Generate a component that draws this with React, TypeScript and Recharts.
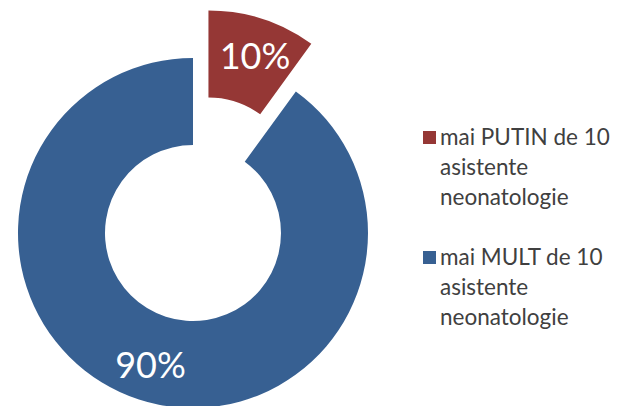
import { PieChart, Pie, Cell, Legend } from 'recharts'

const categories = ['mai PUTIN de 10 asistente neonatologie', 'mai MULT de 10 asistente neonatologie']
const legendLines = [
  ['mai PUTIN de 10', 'asistente', 'neonatologie'],
  ['mai MULT de 10', 'asistente', 'neonatologie']
]
const values = [10, 90]
const colors = ['#953735', '#376092']

const data = categories.map((name, i) => ({ name, value: values[i] }))

const RADIAN = Math.PI / 180
const FONT = 'Lato, "Open Sans", sans-serif'
const CX = 193
const CY = 233
const INNER = 88
const OUTER = 175
const EXPLODE = 50

// shift of the exploded first slice, along its mid angle
const total = values.reduce((a, b) => a + b, 0)
const midFirst = 90 - (360 * values[0]) / 2 / total
const dx = EXPLODE * Math.cos(midFirst * RADIAN)
const dy = -EXPLODE * Math.sin(midFirst * RADIAN)

function makeLabel(visible: number, nudge: number) {
  return (props: any) => {
    const { cx, cy, midAngle, innerRadius, outerRadius, index, percent } = props
    if (index !== visible) return null
    const r = (innerRadius + outerRadius) / 2 + 6
    const x = cx + r * Math.cos(-midAngle * RADIAN) + nudge
    const y = cy + r * Math.sin(-midAngle * RADIAN)
    return (
      <text
        x={x}
        y={y}
        fill="#fff"
        textAnchor="middle"
        dominantBaseline="central"
        fontSize={36}
        fontFamily={FONT}
      >
        {`${Math.round(percent * 100)}%`}
      </text>
    )
  }
}

function LegendBox() {
  return (
    <div style={{ fontFamily: FONT, fontSize: 22.5, color: '#404040' }}>
      {legendLines.map((lines, i) => (
        <div key={i} style={{ position: 'relative', paddingLeft: 17, marginBottom: i === 0 ? 30 : 0 }}>
          <span
            style={{
              position: 'absolute',
              left: 0,
              top: 9,
              width: 13,
              height: 13,
              background: colors[i]
            }}
          />
          {lines.map((l, j) => (
            <div key={j} style={{ lineHeight: '30px', whiteSpace: 'nowrap' }}>
              {l}
            </div>
          ))}
        </div>
      ))}
    </div>
  )
}

export default function App() {
  return (
    <div style={{ position: 'absolute', left: 0, top: 0, width: 621, height: 406, background: '#fff' }}>
      <PieChart width={621} height={406} margin={{ top: 0, right: 0, bottom: 0, left: 0 }}>
        <Pie
          data={data}
          dataKey="value"
          cx={CX}
          cy={CY}
          innerRadius={INNER}
          outerRadius={OUTER}
          startAngle={90}
          endAngle={-270}
          stroke="none"
          labelLine={false}
          label={makeLabel(1, 0)}
          isAnimationActive={false}
        >
          {data.map((d, i) => (
            <Cell key={d.name} fill={i === 1 ? colors[i] : 'none'} />
          ))}
        </Pie>
        <Pie
          data={data}
          dataKey="value"
          cx={CX + dx}
          cy={CY + dy}
          innerRadius={INNER}
          outerRadius={OUTER}
          startAngle={90}
          endAngle={-270}
          stroke="none"
          labelLine={false}
          label={makeLabel(0, 4)}
          isAnimationActive={false}
        >
          {data.map((d, i) => (
            <Cell key={d.name} fill={i === 0 ? colors[i] : 'none'} />
          ))}
        </Pie>
        <Legend
          content={() => <LegendBox />}
          wrapperStyle={{ left: 423, top: 122, width: 200 }}
        />
      </PieChart>
    </div>
  )
}
